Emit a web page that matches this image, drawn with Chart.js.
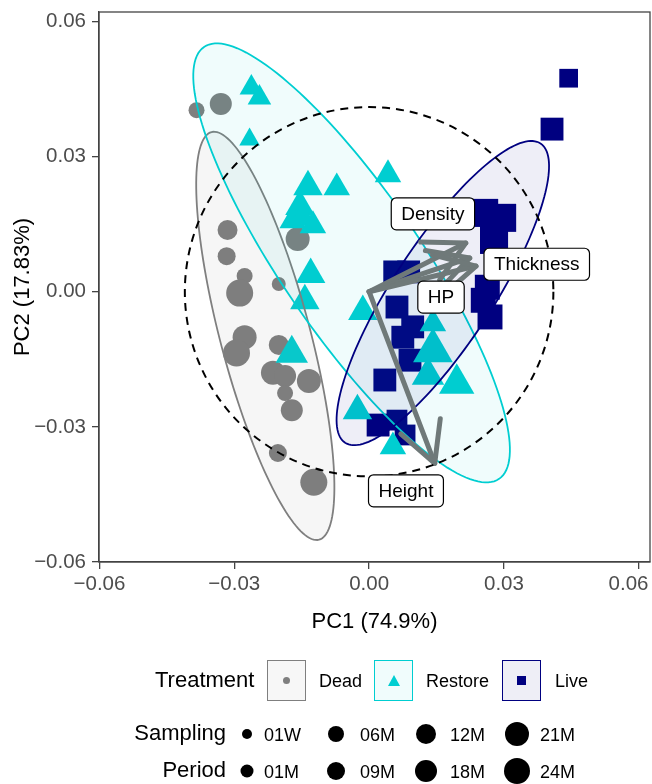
<!DOCTYPE html>
<html>
<head>
<meta charset="utf-8">
<script src="https://cdn.jsdelivr.net/npm/chart.js@4.4.1/dist/chart.umd.min.js"></script>
<style>
  body { margin: 0; background: #fff; font-family: "Liberation Sans", Arial, sans-serif; }
  #wrap { position: relative; width: 652px; height: 784px; overflow: hidden; }
  #chart { position: absolute; left: 0; top: 0; }
  .t { position: absolute; white-space: nowrap; line-height: 1; color: #000; transform: translateY(-50%); }
  .ttl { font-size: 22px; }
  .lab { font-size: 18px; }
  .key { position: absolute; top: 660px; width: 39px; height: 41px; box-sizing: border-box; border: 1.6px solid; display: flex; align-items: center; justify-content: center; }
  .dot { position: absolute; border-radius: 50%; background: #000; transform: translate(-50%, -50%); }
</style>
</head>
<body>
<div id="wrap">
  <canvas id="chart" width="652" height="784"></canvas>
  <div id="legend"></div>
</div>
<script>
const treatments = ['Dead', 'Restore', 'Live'];
const periods = ['01W', '01M', '06M', '09M', '12M', '18M', '21M', '24M'];
const xTicks = [-0.06, -0.03, 0, 0.03, 0.06];
const yTicks = [-0.06, -0.03, 0, 0.03, 0.06];

// PCA scores
const deadX = [-0.0384, -0.0330, -0.0315, -0.0317, -0.0277, -0.0288, -0.0201, -0.0159, -0.0277, -0.0295, -0.0201, -0.0214, -0.0187, -0.0134, -0.0187, -0.0172, -0.0203, -0.0123];
const deadY = [0.0403, 0.0417, 0.0137, 0.0079, 0.0035, -0.0003, 0.0017, 0.0117, -0.0101, -0.0136, -0.0118, -0.0180, -0.0187, -0.0198, -0.0225, -0.0263, -0.0358, -0.0423];
const deadPeriod = ['06M', '18M', '12M', '09M', '06M', '24M', '01M', '21M', '21M', '24M', '12M', '21M', '18M', '21M', '06M', '18M', '09M', '24M'];

const restoreX = [-0.0262, -0.0244, -0.0266, -0.0136, -0.0072, 0.0042, -0.0154, -0.0170, -0.0148, -0.0125, -0.0130, -0.0143, -0.0172, -0.0014, 0.0142, 0.0142, 0.0131, 0.0195, -0.0026, 0.0053];
const restoreY = [0.0453, 0.0431, 0.0338, 0.0233, 0.0231, 0.0260, 0.0189, 0.0158, 0.0164, 0.0147, 0.0038, -0.0020, -0.0137, -0.0044, -0.0071, -0.0131, -0.0186, -0.0204, -0.0264, -0.0344];
const restorePeriod = ['06M', '06M', '01M', '12M', '09M', '09M', '12M', '09M', '09M', '09M', '12M', '12M', '18M', '12M', '09M', '24M', '18M', '21M', '12M', '09M'];

const liveX = [0.0444, 0.0407, 0.0256, 0.0296, 0.0278, 0.0057, 0.0088, 0.0263, 0.0254, 0.0269, 0.0062, 0.0097, 0.0075, 0.0091, 0.0035, 0.0020, 0.0062, 0.0080];
const liveY = [0.0474, 0.0361, 0.0175, 0.0164, 0.0115, 0.0044, 0.0044, 0.0010, -0.0019, -0.0056, -0.0034, -0.0078, -0.0101, -0.0152, -0.0196, -0.0296, -0.0285, -0.0318];
const livePeriod = ['09M', '18M', '24M', '24M', '24M', '18M', '18M', '21M', '21M', '21M', '18M', '18M', '18M', '18M', '18M', '18M', '12M', '12M'];

// loadings (arrows) and their labels
const loadingNames = ['Density', 'HP', 'Thickness', 'Height'];
const loadingX = [0.0215, 0.0224, 0.0238, 0.0146];
const loadingY = [0.0108, 0.0075, 0.0057, -0.0381];
const labelX = [0.0142, 0.0160, 0.0373, 0.0082];
const labelY = [0.0173, -0.0012, 0.0061, -0.0442];

// confidence ellipses per treatment
const ellipseCx = [-0.0231, -0.0039, 0.0164];
const ellipseCy = [-0.0098, 0.0064, -0.0003];
const ellipseA = [0.0468, 0.0581, 0.0397];
const ellipseB = [0.0100, 0.0155, 0.0111];
const ellipseAngle = [-75.2, -55.6, 56.8];
const circleRadius = 0.041;

// styles
const colors = ['#7f7f7f', '#00ced1', '#000080'];
const fills = ['rgba(127,127,127,0.065)', 'rgba(0,206,209,0.06)', 'rgba(0,0,128,0.065)'];
const keyFills = ['#f7f7f7', '#f0fcfc', '#eeeef6'];
const shapes = ['circle', 'triangle', 'rect'];
const shapeScale = [1, 1.7, 1.47];
const periodRadius = [5.5, 7, 8, 9, 10, 11, 12, 13.5];
const arrowColor = '#6f7979';
const font = '"Liberation Sans", Arial, sans-serif';

const radiusOf = p => periodRadius[periods.indexOf(p)];
const fmt = v => (v < 0 ? '\u2212' : '') + Math.abs(v).toFixed(2);

function makeDataset(i, xs, ys, ps, order) {
    return {
        label: treatments[i],
        data: xs.map((x, k) => ({ x, y: ys[k] })),
        pointStyle: shapes[i],
        pointRadius: ps.map(p => radiusOf(p) * shapeScale[i]),
        backgroundColor: colors[i],
        borderWidth: 0,
        order
    };
}

const overlay = {
    id: 'overlay',
    afterDatasetsDraw(chart) {
        const { ctx, chartArea: area, scales: { x, y } } = chart;
        const px = v => x.getPixelForValue(v), py = v => y.getPixelForValue(v);
        ctx.save();
        ctx.beginPath();
        ctx.rect(area.left, area.top, area.width, area.height);
        ctx.clip();

        treatments.forEach((t, i) => {
            const th = ellipseAngle[i] * Math.PI / 180;
            ctx.beginPath();
            for (let k = 0; k <= 160; k++) {
                const s = k / 160 * 2 * Math.PI;
                const ex = ellipseCx[i] + ellipseA[i] * Math.cos(s) * Math.cos(th) - ellipseB[i] * Math.sin(s) * Math.sin(th);
                const ey = ellipseCy[i] + ellipseA[i] * Math.cos(s) * Math.sin(th) + ellipseB[i] * Math.sin(s) * Math.cos(th);
                k ? ctx.lineTo(px(ex), py(ey)) : ctx.moveTo(px(ex), py(ey));
            }
            ctx.closePath();
            ctx.fillStyle = fills[i];
            ctx.fill();
            ctx.strokeStyle = colors[i];
            ctx.lineWidth = 1.8;
            ctx.stroke();
        });

        // loading arrows
        ctx.strokeStyle = arrowColor;
        ctx.lineWidth = 5;
        ctx.lineCap = 'round';
        ctx.lineJoin = 'round';
        const x0 = px(0), y0 = py(0);
        loadingNames.forEach((n, i) => {
            const x1 = px(loadingX[i]), y1 = py(loadingY[i]);
            const ang = Math.atan2(y1 - y0, x1 - x0), head = 45, spread = 28 * Math.PI / 180;
            ctx.beginPath();
            ctx.moveTo(x0, y0);
            ctx.lineTo(x1, y1);
            ctx.stroke();
            ctx.beginPath();
            ctx.moveTo(x1 + head * Math.cos(ang + Math.PI - spread), y1 + head * Math.sin(ang + Math.PI - spread));
            ctx.lineTo(x1, y1);
            ctx.lineTo(x1 + head * Math.cos(ang + Math.PI + spread), y1 + head * Math.sin(ang + Math.PI + spread));
            ctx.stroke();
        });

        // correlation circle
        ctx.beginPath();
        ctx.setLineDash([8, 6]);
        ctx.lineCap = 'butt';
        ctx.strokeStyle = '#000';
        ctx.lineWidth = 2;
        ctx.ellipse(px(0), py(0), px(circleRadius) - px(0), py(0) - py(circleRadius), 0, 0, 2 * Math.PI);
        ctx.stroke();
        ctx.setLineDash([]);

        // labels
        ctx.font = '19px ' + font;
        ctx.textAlign = 'center';
        ctx.textBaseline = 'middle';
        loadingNames.forEach((n, i) => {
            const cx = px(labelX[i]), cy = py(labelY[i]);
            const w = ctx.measureText(n).width + 20, h = 32;
            ctx.beginPath();
            ctx.roundRect(cx - w / 2, cy - h / 2, w, h, 5);
            ctx.fillStyle = '#fff';
            ctx.fill();
            ctx.strokeStyle = '#000';
            ctx.lineWidth = 1.2;
            ctx.stroke();
            ctx.fillStyle = '#000';
            ctx.fillText(n, cx, cy + 1);
        });
        ctx.restore();
    },
    afterDraw(chart) {
        const { ctx, chartArea: a } = chart;
        ctx.save();
        ctx.strokeStyle = '#444';
        ctx.lineWidth = 1.3;
        ctx.strokeRect(a.left, a.top, a.width, a.height);
        ctx.restore();
    }
};

const axisCommon = {
    type: 'linear',
    grid: { display: true, drawOnChartArea: false, drawTicks: true, tickLength: 7, color: '#444', lineWidth: 1.3 },
    border: { display: true, color: '#444', width: 1.3 },
    ticks: { color: '#4d4d4d', font: { family: font, size: 20.5 }, callback: v => fmt(v) }
};

new Chart(document.getElementById('chart'), {
    type: 'scatter',
    data: {
        datasets: [
            makeDataset(0, deadX, deadY, deadPeriod, 1),
            makeDataset(1, restoreX, restoreY, restorePeriod, 0),
            makeDataset(2, liveX, liveY, livePeriod, 2)
        ]
    },
    options: {
        responsive: false,
        animation: false,
        devicePixelRatio: 1,
        layout: { autoPadding: false, padding: { top: 12, right: 2, left: 0, bottom: 134 } },
        plugins: { legend: { display: false }, tooltip: { enabled: false } },
        scales: {
            x: {
                ...axisCommon, min: -0.0601, max: 0.0625,
                // last label sits inside the canvas edge, as in the original
                ticks: { ...axisCommon.ticks, padding: 3, maxRotation: 0,
                         callback: (v, i) => fmt(v) + (i === xTicks.length - 1 ? '\u2003' : '') },
                afterBuildTicks: s => { s.ticks = xTicks.map(v => ({ value: v })); },
                afterFit: s => { s.height = 88; s.paddingLeft = 0; s.paddingRight = 0; },
                title: { display: true, text: 'PC1 (74.9%)', color: '#000', font: { family: font, size: 22 }, padding: { top: 0, bottom: 15 } }
            },
            y: {
                ...axisCommon, min: -0.0600, max: 0.0621,
                ticks: { ...axisCommon.ticks, padding: 6 },
                afterBuildTicks: s => { s.ticks = yTicks.map(v => ({ value: v })); },
                afterFit: s => { s.width = 99; s.paddingTop = 0; s.paddingBottom = 0; },
                title: { display: true, text: 'PC2 (17.83%)', color: '#000', font: { family: font, size: 22 }, padding: { top: 10, bottom: 0 } }
            }
        }
    },
    plugins: [overlay]
});

function buildLegend() {
    const keyLeft = [267, 374, 502], labLeft = [319, 426, 555];
    let html = '<div class="t ttl" style="left:155px;top:680px">Treatment</div>';
    const glyphs = [
        `<div style="width:7px;height:7px;border-radius:50%;background:${colors[0]}"></div>`,
        `<div style="width:0;height:0;border-left:6px solid transparent;border-right:6px solid transparent;border-bottom:11px solid ${colors[1]}"></div>`,
        `<div style="width:9px;height:9px;background:${colors[2]}"></div>`
    ];
    treatments.forEach((t, i) => {
        html += `<div class="key" style="left:${keyLeft[i]}px;border-color:${colors[i]};background:${keyFills[i]}">${glyphs[i]}</div>`;
        html += `<div class="t lab" style="left:${labLeft[i]}px;top:681px">${t}</div>`;
    });
    html += '<div class="t ttl" style="right:426px;top:733px">Sampling</div>';
    html += '<div class="t ttl" style="right:426px;top:770px">Period</div>';
    const colX = [247, 336, 426, 517], labX = [264, 360, 450, 540], rowY = [734, 771];
    const legendRadius = [5, 6.5, 8, 9, 10, 11, 12, 13];
    periods.forEach((p, k) => {
        const c = Math.floor(k / 2), r = k % 2;
        const d = legendRadius[k] * 2;
        html += `<div class="dot" style="left:${colX[c]}px;top:${rowY[r]}px;width:${d}px;height:${d}px"></div>`;
        html += `<div class="t lab" style="left:${labX[c]}px;top:${rowY[r] + 1}px">${p}</div>`;
    });
    document.getElementById('legend').innerHTML = html;
}

buildLegend();
</script>
</body>
</html>
